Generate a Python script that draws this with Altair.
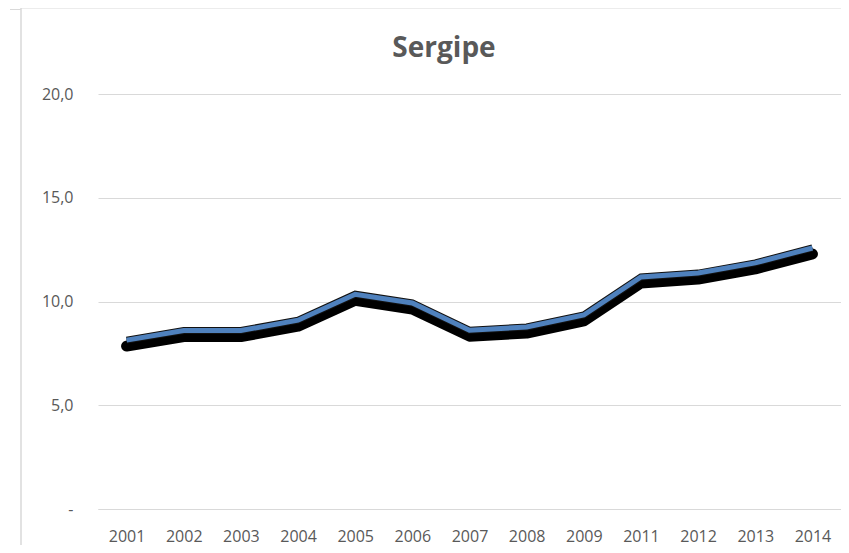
import altair as alt
import pandas as pd

years = ["2001", "2002", "2003", "2004", "2005", "2006", "2007",
         "2008", "2009", "2011", "2012", "2013", "2014"]
values = [8.14, 8.6, 8.6, 9.1, 10.35, 9.93, 8.62, 8.77, 9.35, 11.18, 11.37, 11.86, 12.58]
y_ticks = [0, 5, 10, 15, 20]
title_text = "Sergipe"

df = pd.DataFrame({"year": years, "value": values})

FONT = "Open Sans"
GRAY = "#595959"
GRID = "#d9d9d9"

x_enc = alt.X("year:N", sort=years, title=None,
              scale=alt.Scale(paddingInner=0, paddingOuter=0.5),
              axis=alt.Axis(labelAngle=0, ticks=False, domain=True, domainColor=GRID,
                            domainWidth=1, labelPadding=19, labelFont=FONT, labelFontSize=16,
                            labelColor=GRAY, grid=False))
y_enc = alt.Y("value:Q", title=None,
              scale=alt.Scale(domain=[0, 20], nice=False, zero=True),
              axis=alt.Axis(values=y_ticks, ticks=False, domain=False, gridColor=GRID,
                            labelPadding=25, labelFont=FONT, labelFontSize=16, labelColor=GRAY,
                            labelExpr="datum.value == 0 ? '-\u00a0\u00a0' : replace(format(datum.value, '.1f'), '.', ',')"))

base = alt.Chart(df)
shadow = base.mark_line(color="black", strokeWidth=11, strokeCap="round", strokeJoin="round",
                        yOffset=6, xOffset=0).encode(x=x_enc, y=y_enc)
outline = base.mark_line(color="#111111", strokeWidth=7, strokeJoin="miter").encode(x=x_enc, y=y_enc)
blue = base.mark_line(color="#4f81bd", strokeWidth=5, strokeJoin="miter").encode(x=x_enc, y=y_enc)

title = alt.Chart(pd.DataFrame({"t": [title_text]})).mark_text(
    font=FONT, fontSize=28, fontWeight="bold", color=GRAY, align="center", baseline="alphabetic"
).encode(text="t:N", x=alt.value(346), y=alt.value(-37))

one = pd.DataFrame({"a": [0]})
border_top = alt.Chart(one).mark_rule(color=GRID, strokeWidth=1).encode(
    x=alt.value(-77), x2=alt.value(760), y=alt.value(-86))
border_stub = alt.Chart(one).mark_rule(color=GRID, strokeWidth=1).encode(
    x=alt.value(-88), x2=alt.value(-77), y=alt.value(-84.5))
border_left = alt.Chart(one).mark_rule(color=GRID, strokeWidth=1.5).encode(
    x=alt.value(-77), y=alt.value(-86), y2=alt.value(460))

chart = alt.layer(border_top, border_stub, border_left, shadow, outline, blue, title).properties(
    width=743, height=415,
    autosize=alt.AutoSizeParams(type="none"),
    padding={"left": 90, "top": 86, "right": 0, "bottom": 36},
).configure(background="white").configure_view(stroke=None)

chart.save("out.html", embed_options={"renderer": "svg", "actions": False})
